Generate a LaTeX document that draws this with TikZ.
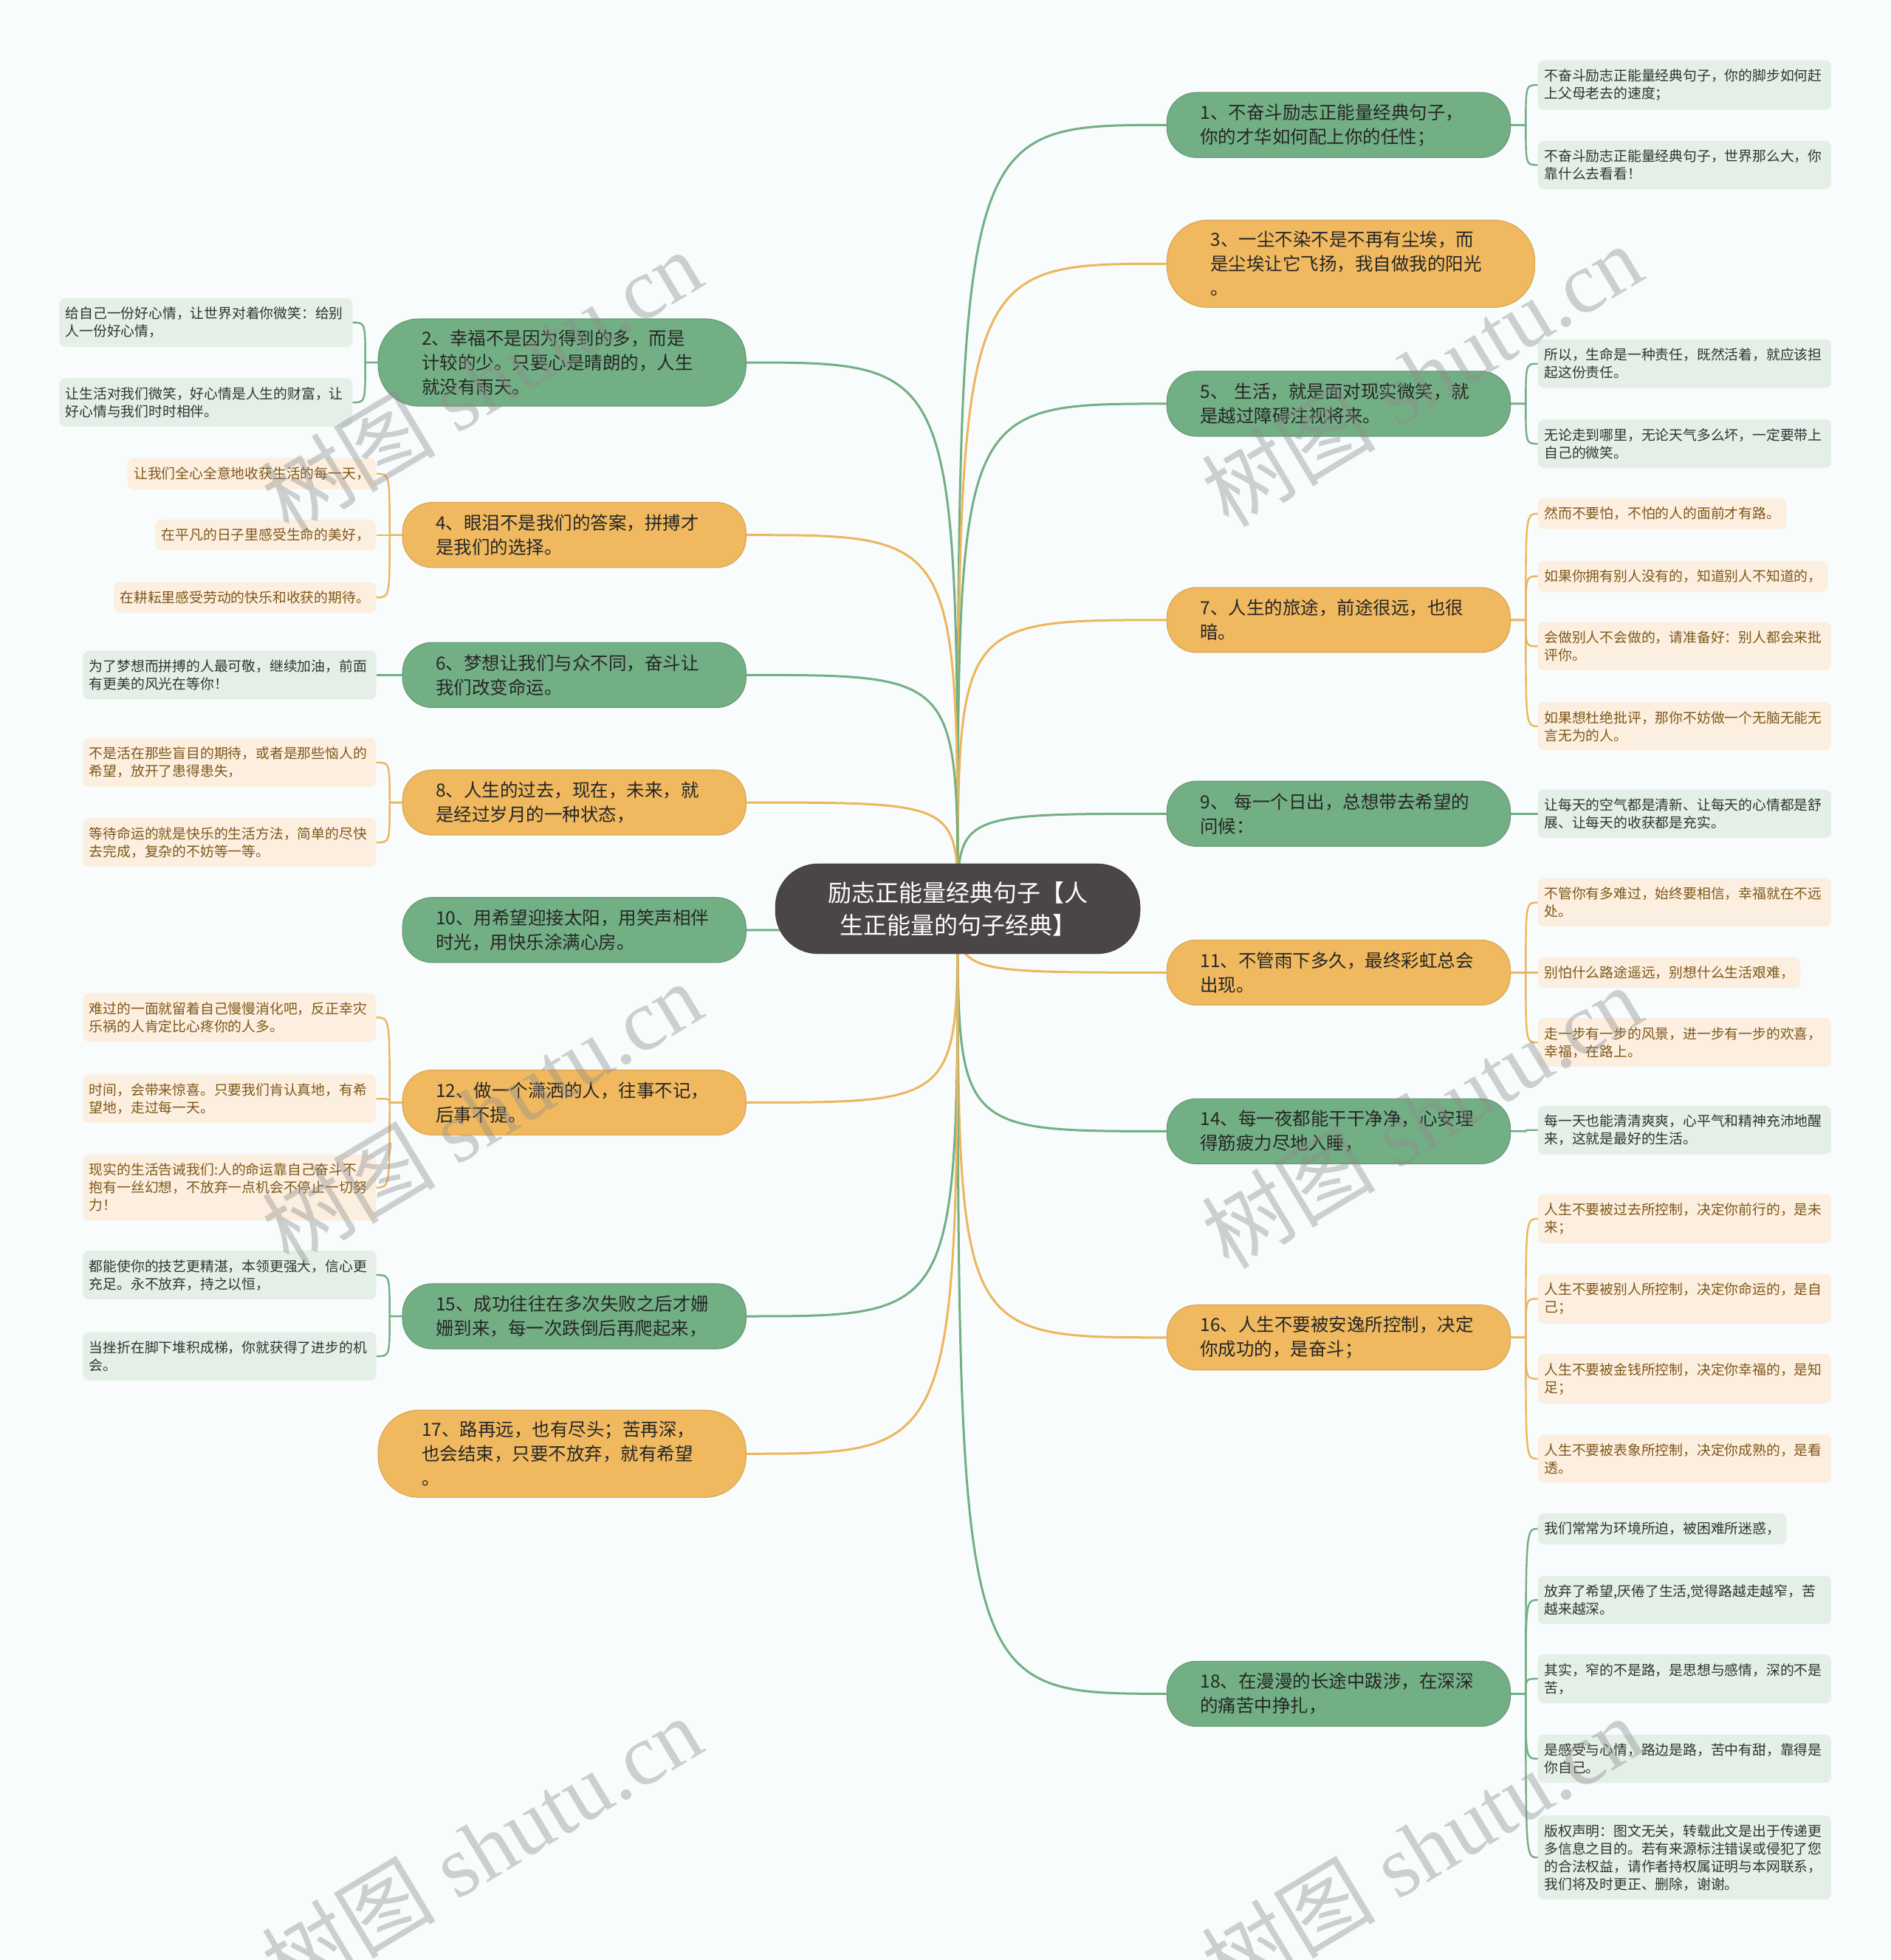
\documentclass[tikz,border=0pt]{standalone}
\usepackage{fontspec}
\usepackage{tikz}
\usetikzlibrary{backgrounds}
\newfontfamily\cjk{Noto Sans CJK SC}
\newfontfamily\wmserif{Liberation Serif}
\definecolor{bgpaper}{HTML}{F8FCFC}
\definecolor{rootfill}{HTML}{4A4546}
\definecolor{gfill}{HTML}{73AF84}
\definecolor{ofill}{HTML}{F0B95F}
\definecolor{gleaf}{HTML}{E4EFE7}
\definecolor{oleaf}{HTML}{FDEFE0}
\definecolor{otext}{HTML}{7E5819}
\definecolor{gline}{HTML}{73AF84}
\definecolor{oline}{HTML}{EDB65C}
\newcommand{\limbR}[2]{\draw[#1] (root.center) .. controls (root.center |- #2.west) .. (#2.west);}
\newcommand{\limbL}[2]{\draw[#1] (root.center) .. controls (root.center |- #2.east) .. (#2.east);}
\newcommand{\twigR}[3]{\path (#2.east) ++(12,0) coordinate (k);
  \draw[#1] (#2.east) -- (k) .. controls (k |- #3.west) .. (#3.west);}
\newcommand{\twigL}[3]{\path (#2.west) ++(-10,0) coordinate (k);
  \draw[#1] (#2.west) -- (k) .. controls (k |- #3.east) .. (#3.east);}

\begin{document}
\begin{tikzpicture}[x=1.6931pt,y=-1.6931pt,
  mainbox/.style={rounded corners=40pt, align=left, text width=375pt, inner xsep=45pt,
    minimum height=88pt, font=\cjk\fontsize{24.5}{33}\selectfont, text=black!85, line width=1.2pt},
  tallbox/.style={mainbox, rounded corners=55pt, text width=380pt, inner xsep=59pt, minimum height=118pt},
  gbox/.style={fill=gfill, draw=gline!88!black},
  obox/.style={fill=ofill, draw=oline!92!black},
  leaf/.style={rounded corners=8pt, align=left, inner xsep=8.5pt, inner ysep=12pt,
    font=\cjk\fontsize{18.8}{24}\selectfont},
  wideleaf/.style={leaf, text width=380pt},
  gl/.style={fill=gleaf, text=black!80},
  ol/.style={fill=oleaf, text=otext},
  glink/.style={draw=gline, line width=3pt},
  olink/.style={draw=oline, line width=3pt},
  gtwig/.style={draw=gline, line width=2.4pt},
  otwig/.style={draw=oline, line width=2.4pt},
  wmark/.style={rotate=31, text=black!45, text opacity=0.4, font=\wmserif\fontsize{118}{118}\selectfont}]
  \useasboundingbox (0,0) rectangle (1512,1568);

  \node[fill=rootfill, draw=rootfill!80!black, text=white, rounded corners=58pt, minimum width=494pt,
    minimum height=122pt, align=center, font=\cjk\fontsize{32}{44}\selectfont] (root) at (766,727)
    {励志正能量经典句子【人\\生正能量的句子经典】};

  \node[mainbox, gbox, anchor=west] (b1) at (933,100) {1、不奋斗励志正能量经典句子，\\你的才华如何配上你的任性；};
  \node[tallbox, obox, anchor=west] (b3) at (933,211) {3、一尘不染不是不再有尘埃，而\\是尘埃让它飞扬，我自做我的阳光\\。};
  \node[mainbox, gbox, anchor=west] (b5) at (933,323) {5、 生活，就是面对现实微笑，就\\是越过障碍注视将来。};
  \node[mainbox, obox, anchor=west] (b7) at (933,496) {7、人生的旅途，前途很远，也很\\暗。};
  \node[mainbox, gbox, anchor=west] (b9) at (933,651) {9、 每一个日出，总想带去希望的\\问候：};
  \node[mainbox, obox, anchor=west] (b11) at (933,778) {11、不管雨下多久，最终彩虹总会\\出现。};
  \node[mainbox, gbox, anchor=west] (b14) at (933,905) {14、每一夜都能干干净净，心安理\\得筋疲力尽地入睡，};
  \node[mainbox, obox, anchor=west] (b16) at (933,1070) {16、人生不要被安逸所控制，决定\\你成功的，是奋斗；};
  \node[mainbox, gbox, anchor=west] (b18) at (933,1355) {18、在漫漫的长途中跋涉，在深深\\的痛苦中挣扎，};

  \node[tallbox, gbox, anchor=east] (b2) at (597,290) {2、幸福不是因为得到的多，而是\\计较的少。只要心是晴朗的，人生\\就没有雨天。};
  \node[mainbox, obox, anchor=east] (b4) at (597,428) {4、眼泪不是我们的答案，拼搏才\\是我们的选择。};
  \node[mainbox, gbox, anchor=east] (b6) at (597,540) {6、梦想让我们与众不同，奋斗让\\我们改变命运。};
  \node[mainbox, obox, anchor=east] (b8) at (597,642) {8、人生的过去，现在，未来，就\\是经过岁月的一种状态，};
  \node[mainbox, gbox, anchor=east] (b10) at (597,744) {10、用希望迎接太阳，用笑声相伴\\时光，用快乐涂满心房。};
  \node[mainbox, obox, anchor=east] (b12) at (597,882) {12、做一个潇洒的人，往事不记，\\后事不提。};
  \node[mainbox, gbox, anchor=east] (b15) at (597,1053) {15、成功往往在多次失败之后才姗\\姗到来，每一次跌倒后再爬起来，};
  \node[tallbox, obox, anchor=east] (b17) at (597,1163) {17、路再远，也有尽头；苦再深，\\也会结束，只要不放弃，就有希望\\。};

  \node[wideleaf, gl, anchor=west] (l1a) at (1230,68) {不奋斗励志正能量经典句子，你的脚步如何赶\\上父母老去的速度；};
  \node[wideleaf, gl, anchor=west] (l1b) at (1230,132) {不奋斗励志正能量经典句子，世界那么大，你\\靠什么去看看！};
  \node[wideleaf, gl, anchor=west] (l5a) at (1230,291) {所以，生命是一种责任，既然活着，就应该担\\起这份责任。};
  \node[wideleaf, gl, anchor=west] (l5b) at (1230,355) {无论走到哪里，无论天气多么坏，一定要带上\\自己的微笑。};
  \node[leaf, ol, anchor=west] (l7a) at (1230,411) {然而不要怕，不怕的人的面前才有路。};
  \node[leaf, ol, anchor=west] (l7b) at (1230,461) {如果你拥有别人没有的，知道别人不知道的，};
  \node[wideleaf, ol, anchor=west] (l7c) at (1230,517) {会做别人不会做的，请准备好：别人都会来批\\评你。};
  \node[wideleaf, ol, anchor=west] (l7d) at (1230,581) {如果想杜绝批评，那你不妨做一个无脑无能无\\言无为的人。};
  \node[wideleaf, gl, anchor=west] (l9a) at (1230,651) {让每天的空气都是清新、让每天的心情都是舒\\展、让每天的收获都是充实。};
  \node[wideleaf, ol, anchor=west] (l11a) at (1230,722) {不管你有多难过，始终要相信，幸福就在不远\\处。};
  \node[leaf, ol, anchor=west] (l11b) at (1230,778) {别怕什么路途遥远，别想什么生活艰难，};
  \node[wideleaf, ol, anchor=west] (l11c) at (1230,834) {走一步有一步的风景，进一步有一步的欢喜，\\幸福，在路上。};
  \node[wideleaf, gl, anchor=west] (l14a) at (1230,904) {每一天也能清清爽爽，心平气和精神充沛地醒\\来，这就是最好的生活。};
  \node[wideleaf, ol, anchor=west] (l16a) at (1230,975) {人生不要被过去所控制，决定你前行的，是未\\来；};
  \node[wideleaf, ol, anchor=west] (l16b) at (1230,1039) {人生不要被别人所控制，决定你命运的，是自\\己；};
  \node[wideleaf, ol, anchor=west] (l16c) at (1230,1103) {人生不要被金钱所控制，决定你幸福的，是知\\足；};
  \node[wideleaf, ol, anchor=west] (l16d) at (1230,1167) {人生不要被表象所控制，决定你成熟的，是看\\透。};
  \node[leaf, gl, anchor=west] (l18a) at (1230,1223) {我们常常为环境所迫，被困难所迷惑，};
  \node[wideleaf, gl, anchor=west] (l18b) at (1230,1280) {放弃了希望,厌倦了生活,觉得路越走越窄，苦\\越来越深。};
  \node[wideleaf, gl, anchor=west] (l18c) at (1230,1343) {其实，窄的不是路，是思想与感情，深的不是\\苦，};
  \node[wideleaf, gl, anchor=west] (l18d) at (1230,1407) {是感受与心情，路边是路，苦中有甜，靠得是\\你自己。};
  \node[wideleaf, gl, anchor=west] (l18e) at (1230,1486) {版权声明：图文无关，转载此文是出于传递更\\多信息之目的。若有来源标注错误或侵犯了您\\的合法权益，请作者持权属证明与本网联系，\\我们将及时更正、删除，谢谢。};

  \node[wideleaf, gl, anchor=east] (l2a) at (282,258) {给自己一份好心情，让世界对着你微笑：给别\\人一份好心情，};
  \node[wideleaf, gl, anchor=east] (l2b) at (282,322) {让生活对我们微笑，好心情是人生的财富，让\\好心情与我们时时相伴。};
  \node[leaf, ol, anchor=east] (l4a) at (301,379) {让我们全心全意地收获生活的每一天，};
  \node[leaf, ol, anchor=east] (l4b) at (301,428) {在平凡的日子里感受生命的美好，};
  \node[leaf, ol, anchor=east] (l4c) at (301,478) {在耕耘里感受劳动的快乐和收获的期待。};
  \node[wideleaf, gl, anchor=east] (l6a) at (301,540) {为了梦想而拼搏的人最可敬，继续加油，前面\\有更美的风光在等你！};
  \node[wideleaf, ol, anchor=east] (l8a) at (301,610) {不是活在那些盲目的期待，或者是那些恼人的\\希望，放开了患得患失，};
  \node[wideleaf, ol, anchor=east] (l8b) at (301,674) {等待命运的就是快乐的生活方法，简单的尽快\\去完成，复杂的不妨等一等。};
  \node[wideleaf, ol, anchor=east] (l12a) at (301,814) {难过的一面就留着自己慢慢消化吧，反正幸灾\\乐祸的人肯定比心疼你的人多。};
  \node[wideleaf, ol, anchor=east] (l12b) at (301,879) {时间，会带来惊喜。只要我们肯认真地，有希\\望地，走过每一天。};
  \node[wideleaf, ol, anchor=east] (l12c) at (301,950) {现实的生活告诫我们:人的命运靠自己奋斗不\\抱有一丝幻想，不放弃一点机会不停止一切努\\力！};
  \node[wideleaf, gl, anchor=east] (l15a) at (301,1020) {都能使你的技艺更精湛，本领更强大，信心更\\充足。永不放弃，持之以恒，};
  \node[wideleaf, gl, anchor=east] (l15b) at (301,1085) {当挫折在脚下堆积成梯，你就获得了进步的机\\会。};

  \begin{scope}[on background layer]
    \fill[bgpaper] (0,0) rectangle (1512,1568);
    \limbR{glink}{b1} \limbR{olink}{b3} \limbR{glink}{b5} \limbR{olink}{b7} \limbR{glink}{b9}
    \limbR{olink}{b11} \limbR{glink}{b14} \limbR{olink}{b16} \limbR{glink}{b18}
    \limbL{glink}{b2} \limbL{olink}{b4} \limbL{glink}{b6} \limbL{olink}{b8} \limbL{glink}{b10}
    \limbL{olink}{b12} \limbL{glink}{b15} \limbL{olink}{b17}
    \twigR{gtwig}{b1}{l1a} \twigR{gtwig}{b1}{l1b}
    \twigR{gtwig}{b5}{l5a} \twigR{gtwig}{b5}{l5b}
    \twigR{otwig}{b7}{l7a} \twigR{otwig}{b7}{l7b} \twigR{otwig}{b7}{l7c} \twigR{otwig}{b7}{l7d}
    \twigR{gtwig}{b9}{l9a}
    \twigR{otwig}{b11}{l11a} \twigR{otwig}{b11}{l11b} \twigR{otwig}{b11}{l11c}
    \twigR{gtwig}{b14}{l14a}
    \twigR{otwig}{b16}{l16a} \twigR{otwig}{b16}{l16b} \twigR{otwig}{b16}{l16c} \twigR{otwig}{b16}{l16d}
    \twigR{gtwig}{b18}{l18a} \twigR{gtwig}{b18}{l18b} \twigR{gtwig}{b18}{l18c} \twigR{gtwig}{b18}{l18d}
    \twigR{gtwig}{b18}{l18e}
    \twigL{gtwig}{b2}{l2a} \twigL{gtwig}{b2}{l2b}
    \twigL{otwig}{b4}{l4a} \twigL{otwig}{b4}{l4b} \twigL{otwig}{b4}{l4c}
    \twigL{gtwig}{b6}{l6a}
    \twigL{otwig}{b8}{l8a} \twigL{otwig}{b8}{l8b}
    \twigL{otwig}{b12}{l12a} \twigL{otwig}{b12}{l12b} \twigL{otwig}{b12}{l12c}
    \twigL{gtwig}{b15}{l15a} \twigL{gtwig}{b15}{l15b}
  \end{scope}

  \node[wmark] (wm1) at (385,305) {{\cjk 树图} shutu.cn};
  \node[wmark] (wm2) at (1137,300) {{\cjk 树图} shutu.cn};
  \node[wmark] (wm3) at (385,890) {{\cjk 树图} shutu.cn};
  \node[wmark] (wm4) at (1137,893) {{\cjk 树图} shutu.cn};
  \node[wmark] (wm5) at (385,1478) {{\cjk 树图} shutu.cn};
  \node[wmark] (wm6) at (1137,1478) {{\cjk 树图} shutu.cn};
\end{tikzpicture}
\end{document}
